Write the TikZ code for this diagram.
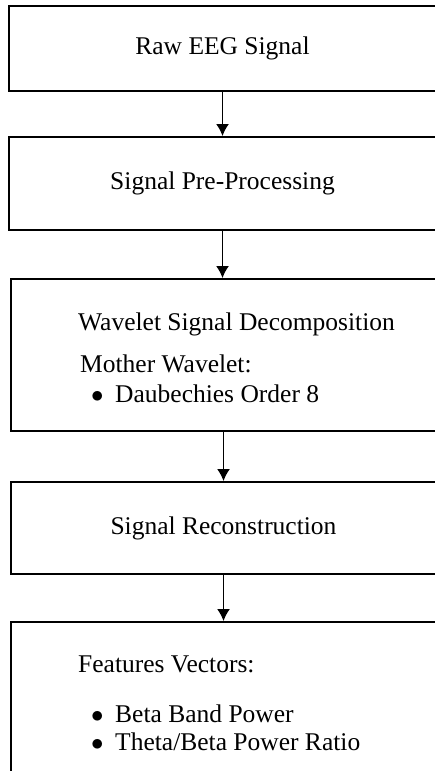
\documentclass[tikz,border=0pt]{standalone}
\usepackage{fontspec}
\setmainfont{Liberation Serif}
\usepackage{tikz}
\usetikzlibrary{arrows.meta}

\begin{document}
\begin{tikzpicture}[x=1pt,y=-1pt]
\tikzset{block/.style = {shape=rectangle,draw,line width=1.8pt,inner sep=0pt,
  font=\fontsize{25.5}{30}\selectfont}}
\tikzset{txt/.style = {anchor=base west,inner sep=0pt,font=\fontsize{25.5}{30}\selectfont}}
\tikzset{edge/.style = {-{Latex[length=12pt,width=13pt]},line width=1.8pt}}
\useasboundingbox (0,0) rectangle (435,771);
\clip (0,0) rectangle (435,771);
% boxes
\node[block,minimum width=427pt,minimum height=85pt] (raw) at (222.5,48.5) {Raw EEG Signal};
\node[block,minimum width=427pt,minimum height=93pt] (pre) at (222.5,183.5) {Signal Pre-Processing};
\node[block,minimum width=425pt,minimum height=152pt] (wav) at (223.5,355) {};
\node[block,minimum width=425pt,minimum height=92pt] (rec) at (223.5,528) {Signal Reconstruction};
\node[block,minimum width=425pt,minimum height=180pt] (feat) at (223.5,712) {};
% box texts
\node[txt] (wavtitle) at (78,330) {Wavelet Signal Decomposition};
\node[txt] (mother) at (80,372) {Mother Wavelet:};
\node[txt] (db8dot) at (91,402) {$\bullet$};
\node[txt] (db8) at (115,402) {Daubechies Order 8};
\node[txt] (feattitle) at (78,672) {Features Vectors:};
\node[txt] (betadot) at (91,722) {$\bullet$};
\node[txt] (beta) at (115,722) {Beta Band Power};
\node[txt] (ratiodot) at (91,750) {$\bullet$};
\node[txt] (ratio) at (115,750) {Theta/Beta Power Ratio};
%edges
\draw[edge] (raw.south) to (pre.north);
\draw[edge] (pre.south) to (pre.south |- wav.north);
\draw[edge] (wav.south) to (rec.north);
\draw[edge] (rec.south) to (feat.north);
\end{tikzpicture}
\end{document}
